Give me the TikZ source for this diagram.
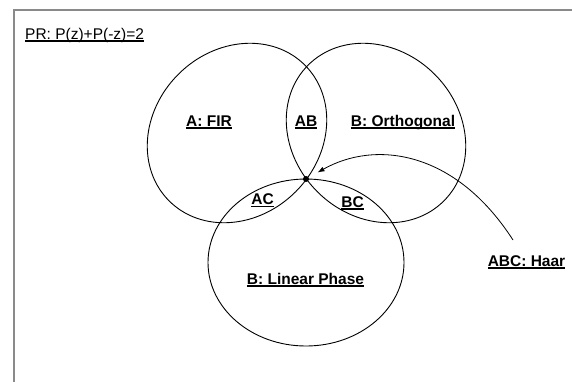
\documentclass[tikz,border=0pt]{standalone}
\usepackage{fontspec}
\setmainfont{Liberation Sans}
\usetikzlibrary{arrows.meta}
\definecolor{framegray}{HTML}{8A8A8A}
\newcommand\uln[1]{\setbox0=\hbox{#1}\rlap{\vrule height -1.4pt depth 2.7pt width \wd0}\box0}
\begin{document}
\begin{tikzpicture}[x=1pt,y=-1pt,
  lab/.style={font=\fontsize{15.5}{18}\selectfont\bfseries, inner sep=0pt, anchor=base},
  plain/.style={font=\fontsize{15.5}{18}\selectfont, inner sep=0pt, anchor=base west},
  set/.style={draw=black, line width=0.9pt},
  frameline/.style={draw=framegray, line width=2pt}]
\useasboundingbox (0,0) rectangle (572,381);
% frame
\draw[frameline] (580,10) -- (14,10) -- (14,390);
% sets
\coordinate (ca) at (237,133);
\coordinate (cb) at (376,133);
\coordinate (cc) at (306,262.5);
\draw[set, rotate around={45:(ca)}] (ca) ellipse [x radius=96pt, y radius=83pt];
\draw[set, rotate around={-45:(cb)}] (cb) ellipse [x radius=96pt, y radius=83pt];
\draw[set] (cc) ellipse [x radius=98pt, y radius=83.5pt];
% labels
\node[plain] (pr) at (25,39) {\uln{PR: P(z)+P(-z)=2}};
\node[lab] (a) at (209,126) {\uln{A: FIR}};
\node[lab] (ab) at (306,126) {\uln{AB}};
\node[lab] (b) at (403,126) {\uln{B: Orthogonal}};
\node[lab] (ac) at (262.5,204.5) {\uln{AC}};
\node[lab] (bc) at (352.5,207) {\uln{BC}};
\node[lab] (c) at (305.5,284) {\uln{B: Linear Phase}};
\node[lab] (haar) at (526.5,266) {\uln{ABC: Haar}};
% intersection dot and arrow
\node[circle, fill=black, inner sep=0pt, minimum size=6pt] (dot) at (306,179) {};
\coordinate (hs) at (513,240);
\draw[line width=0.8pt, -{Latex[length=7pt,width=5pt]}, shorten >=10pt]
  (hs) .. controls (455,150) and (375,140) .. (dot);
\end{tikzpicture}
\end{document}
